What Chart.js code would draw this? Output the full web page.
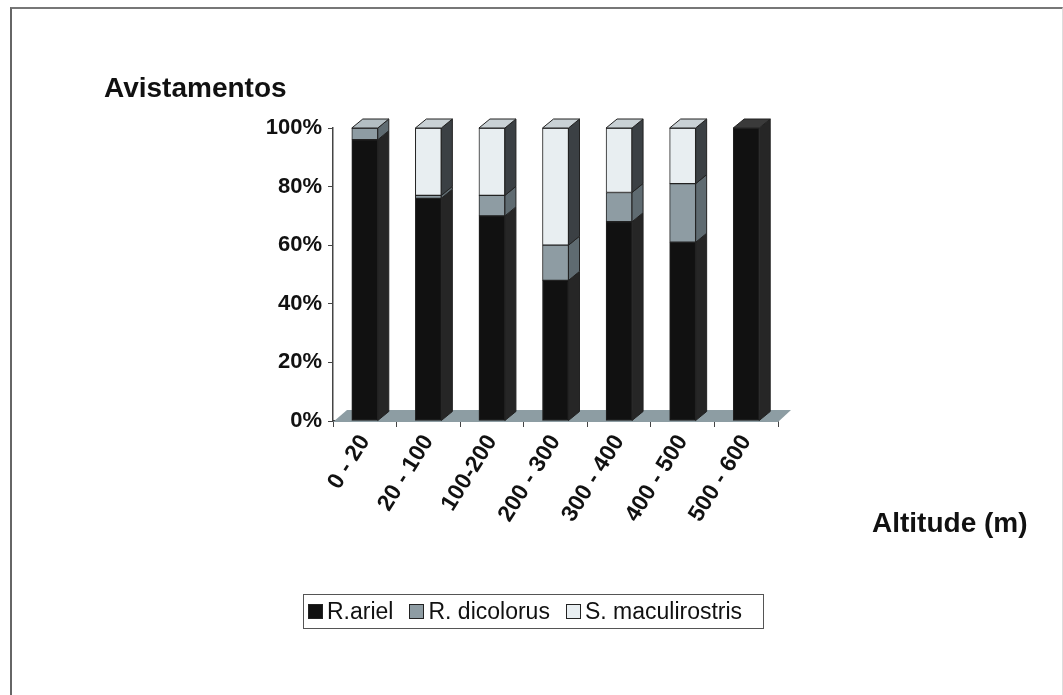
<!DOCTYPE html>
<html>
<head>
<meta charset="utf-8">
<script src="https://cdn.jsdelivr.net/npm/chart.js@4.4.0/dist/chart.umd.min.js"></script>
<style>
body { margin: 0; background: #fff; font-family: "Liberation Sans", Arial, sans-serif; }
#wrap { position: relative; width: 1063px; height: 695px; overflow: hidden; }
#frame { position: absolute; left: 10px; top: 7px; width: 1050px; height: 720px;
         border-left: 2px solid #666; border-top: 2px solid #777; border-right: 1px solid #ddd; }
#chart { position: absolute; left: 0; top: 0; }
.lbl { position: absolute; font-weight: bold; font-size: 28px; line-height: 32px; color: #111; white-space: nowrap; }
#legend { position: absolute; left: 303px; top: 594px; width: 461px; height: 35px;
          border: 1px solid #555; display: flex; align-items: center; justify-content: flex-start;
          padding-left: 4px; box-sizing: border-box; font-size: 23px; color: #111; }
#legend span.item { display: inline-flex; align-items: center; margin-right: 16px; }
#legend span.item:last-child { margin-right: 0; }
#legend i { display: inline-block; width: 13px; height: 13px; border: 1px solid #222; margin-right: 4px; }
</style>
</head>
<body>
<div id="wrap">
  <div id="frame"></div>
  <canvas id="chart" width="1063" height="695"></canvas>
  <div class="lbl" style="left:104px; top:72px;">Avistamentos</div>
  <div class="lbl" style="left:872px; top:507px;">Altitude (m)</div>
  <div id="legend"></div>
</div>
<script>
// --- Data ---
const altitudes = ['0 - 20', '20 - 100', '100-200', '200 - 300', '300 - 400', '400 - 500', '500 - 600'];
const rAriel = [96, 76, 70, 48, 68, 61, 100];
const rDicolorus = [4, 1, 7, 12, 10, 20, 0];
const sMaculirostris = [0, 23, 23, 40, 22, 19, 0];
const yTicks = [0, 20, 40, 60, 80, 100];

// colours: front, side, top
const shades = [
    { front: '#111111', side: '#262626', top: '#3a3a3a' },
    { front: '#8e9ca3', side: '#5f6b71', top: '#b3bec3' },
    { front: '#e8eef1', side: '#3b4044', top: '#c9d1d5' }
];

const DX = 11, DY = 9; // bar depth

// 3D look: floor behind bars, side + top faces after
const depthPlugin = {
    id: 'depth',
    beforeDatasetsDraw(chart) {
        const { ctx, chartArea: a } = chart;
        ctx.save();
        ctx.fillStyle = '#8d9da3';
        ctx.beginPath();
        ctx.moveTo(a.left, a.bottom + 1);
        ctx.lineTo(a.right, a.bottom + 1);
        ctx.lineTo(a.right + 13, a.bottom - 11);
        ctx.lineTo(a.left + 14, a.bottom - 11);
        ctx.closePath();
        ctx.fill();
        ctx.restore();
    },
    afterDatasetsDraw(chart) {
        const { ctx } = chart;
        const n = chart.data.labels.length;
        ctx.save();
        ctx.strokeStyle = '#222';
        ctx.lineWidth = 1;
        for (let i = 0; i < n; i++) {
            let topBar = null, topIdx = -1;
            chart.data.datasets.forEach((ds, d) => {
                const bar = chart.getDatasetMeta(d).data[i];
                if (!bar || ds.data[i] <= 0) return;
                const r = bar.x + bar.width / 2;
                ctx.fillStyle = shades[d].side;
                ctx.beginPath();
                ctx.moveTo(r, bar.y);
                ctx.lineTo(r + DX, bar.y - DY);
                ctx.lineTo(r + DX, bar.base - DY);
                ctx.lineTo(r, bar.base);
                ctx.closePath();
                ctx.fill();
                ctx.stroke();
                topBar = bar; topIdx = d;
            });
            if (topBar) {
                const l = topBar.x - topBar.width / 2, r = topBar.x + topBar.width / 2;
                ctx.fillStyle = shades[topIdx].top;
                ctx.beginPath();
                ctx.moveTo(l, topBar.y);
                ctx.lineTo(l + DX, topBar.y - DY);
                ctx.lineTo(r + DX, topBar.y - DY);
                ctx.lineTo(r, topBar.y);
                ctx.closePath();
                ctx.fill();
                ctx.stroke();
            }
        }
        ctx.restore();
    }
};

const chart = new Chart(document.getElementById('chart'), {
    type: 'bar',
    data: {
        labels: altitudes,
        datasets: [
            { label: 'R.ariel', data: rAriel },
            { label: 'R. dicolorus', data: rDicolorus },
            { label: 'S. maculirostris', data: sMaculirostris }
        ].map((ds, i) => ({
            ...ds,
            backgroundColor: shades[i].front,
            borderColor: '#222',
            borderWidth: 1,
            borderSkipped: false,
            barThickness: 26
        }))
    },
    options: {
        responsive: false,
        animation: false,
        layout: { padding: { left: 0, right: 285, top: 128, bottom: 0 } },
        plugins: { legend: { display: false }, tooltip: { enabled: false } },
        scales: {
            x: {
                stacked: true,
                grid: { drawOnChartArea: false, drawTicks: true, tickLength: 6, color: '#444' },
                border: { display: true, color: '#333', width: 1.5 },
                ticks: {
                    color: '#111',
                    font: { family: 'Liberation Sans', size: 23, weight: 'bold' },
                    minRotation: 58, maxRotation: 58, padding: 3
                },
                afterFit(scale) { scale.height = 274; }
            },
            y: {
                stacked: true,
                min: 0, max: 100,
                afterBuildTicks(scale) { scale.ticks = yTicks.map(v => ({ value: v })); },
                grid: { drawOnChartArea: false, drawTicks: true, tickLength: 5, color: '#444' },
                border: { display: true, color: '#444', width: 1.5 },
                ticks: {
                    color: '#111',
                    font: { family: 'Liberation Sans', size: 22, weight: 'bold' },
                    padding: 6,
                    callback: v => v + '%'
                },
                afterFit(scale) { scale.width = 333; }
            }
        }
    },
    plugins: [depthPlugin]
});

// HTML legend from the chart's datasets
const legend = document.getElementById('legend');
chart.data.datasets.forEach(ds => {
    const item = document.createElement('span');
    item.className = 'item';
    item.innerHTML = `<i style="background:${ds.backgroundColor}"></i>${ds.label}`;
    legend.appendChild(item);
});
</script>
</body>
</html>
